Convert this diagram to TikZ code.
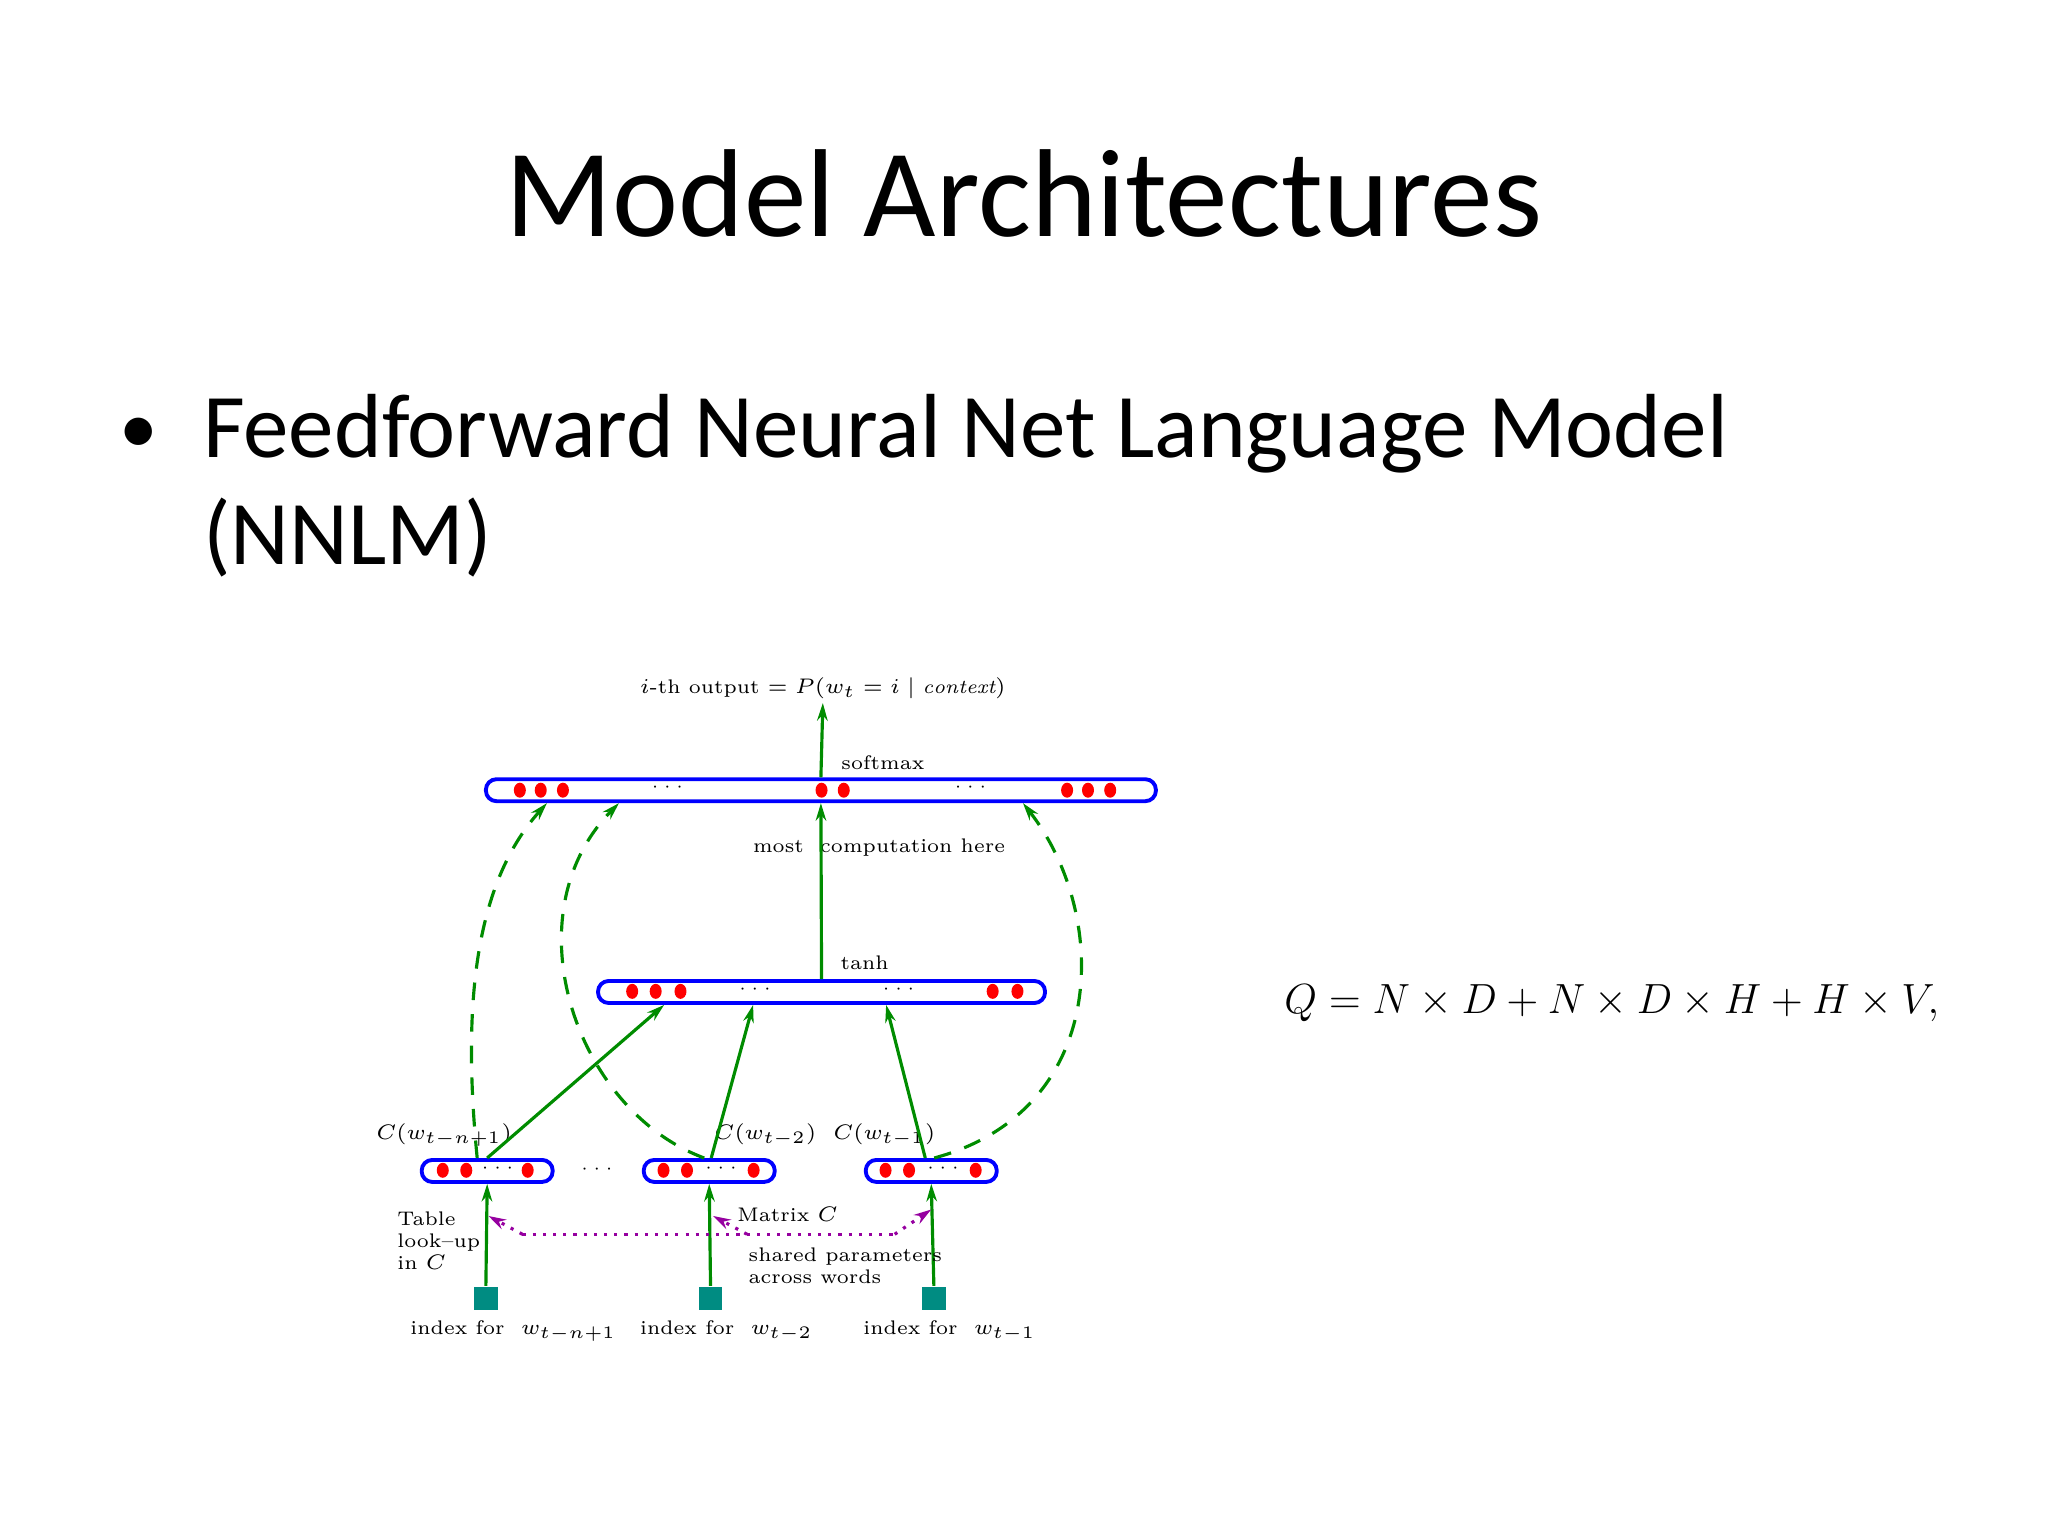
\documentclass[tikz,border=0pt]{standalone}
\usepackage{fontspec}
\newfontfamily\calfont{Carlito}
\usetikzlibrary{arrows.meta,shapes.geometric}
\definecolor{gr}{RGB}{0,140,0}
\definecolor{teal2}{RGB}{0,140,130}
\definecolor{pur}{RGB}{150,0,160}
\begin{document}
\begin{tikzpicture}[x=0.01306cm,y=-0.01306cm,
  bar/.style={draw=blue,line width=1.1pt,rounded corners=3pt,fill=white,inner sep=0pt},
  dot/.style={fill=red,draw=none,ellipse,inner sep=0pt,minimum width=0.12cm,minimum height=0.15cm},
  arr/.style={gr,line width=0.9pt,-{Stealth[length=5pt,width=3pt]}},
  darr/.style={gr,line width=0.9pt,dash pattern=on 5pt off 4pt,-{Stealth[length=5pt,width=3pt]}},
  parr/.style={pur,line width=0.9pt,dotted,-{Stealth[length=5pt,width=3pt]}},
  lab/.style={font=\fontsize{5.6}{6.3}\selectfont,inner sep=1pt},
  sq/.style={fill=teal2,minimum size=0.235cm,inner sep=0pt}]
\useasboundingbox (0,0) rectangle (1568,1176);
\node[font=\calfont\fontsize{35.6}{38}\selectfont] (title) at (784,148) {Model Architectures};
\node[font=\calfont\fontsize{25.9}{28}\selectfont,anchor=base west,inner sep=0pt] (b1) at (155,350) {Feedforward Neural Net Language Model};
\node[font=\calfont\fontsize{25.9}{28}\selectfont,anchor=base west,inner sep=0pt] (b2) at (155,432) {(NNLM)};
\node[font=\calfont\fontsize{22}{28}\selectfont,anchor=base] (bul) at (106,347) {•};
% bars
\node[bar,minimum width=6.70cm,minimum height=0.22cm] (soft) at (628.5,605) {};
\node[bar,minimum width=4.47cm,minimum height=0.22cm] (tanh) at (629,759.5) {};
\node[bar,minimum width=1.31cm,minimum height=0.22cm] (e1) at (373,896.5) {};
\node[bar,minimum width=1.31cm,minimum height=0.22cm] (e2) at (543,896.5) {};
\node[bar,minimum width=1.31cm,minimum height=0.22cm] (e3) at (713,896.5) {};
% dots
\foreach \x in {398,414,431,629,646,817,833,850}{\path (\x,605) node[dot]{};}
\foreach \x in {484,502,521,760,779}{\path (\x,759) node[dot]{};}
\foreach \x in {339,357,404,508,526,577,678,696,747}{\path (\x,896) node[dot]{};}
\foreach \x/\y in {511/605,743/605,578/759,688/759,381/896,552/896,722/896,457/897}{\node[lab,font=\fontsize{5}{5}\selectfont] at (\x,\y-2) {$\cdots$};}
% inputs
\node[sq] (i1) at (372,994) {};
\node[sq] (i2) at (544,994) {};
\node[sq] (i3) at (715,994) {};
\draw[arr] (i1.north) -- (e1.south);
\draw[arr] (i2.north) -- (e2.south);
\draw[arr] (i3.north) -- (e3.south);
% labels
\node[lab] (out) at (630,527) {$i$-th output $= P(w_t = i \mid \mathit{context})$};
\node[lab] (lsoft) at (676,584) {softmax};
\node[lab] (lmost) at (673,649) {most\ \ computation here};
\node[lab] (ltanh) at (662,737) {tanh};
\node[lab] (c1) at (340,869) {$C(w_{t-n+1})$};
\node[lab] (c2) at (586,869) {$C(w_{t-2})$};
\node[lab] (c3) at (677,869) {$C(w_{t-1})$};
\node[lab,align=left,anchor=west] (tab) at (301,950) {Table\\look--up\\in $C$};
\node[lab] (mat) at (603,930) {Matrix $C$};
\node[lab,align=left,anchor=north west] (sh) at (570,952) {shared parameters\\across words};
\node[lab] (x1) at (393,1019) {index for\ \ $w_{t-n+1}$};
\node[lab] (x2) at (556,1019) {index for\ \ $w_{t-2}$};
\node[lab] (x3) at (727,1019) {index for\ \ $w_{t-1}$};
% main arrows
\draw[arr] (soft.north) -- (out.south);
\draw[arr] (tanh.north) -- (soft.south);
\draw[arr] (e1.north) -- ([xshift=0.68cm]tanh.south west);
\draw[arr] ([xshift=0.02cm]e2.north) -- ([xshift=1.57cm]tanh.south west);
\draw[arr] ([xshift=-0.06cm]e3.north) -- ([xshift=2.90cm]tanh.south west);
% dashed
\draw[darr] ([xshift=-0.1cm]e1.north) .. controls (355,780) and (360,680) .. ([xshift=0.63cm]soft.south west);
\draw[darr] ([xshift=-0.05cm]e2.north) .. controls (440,850) and (390,700) .. ([xshift=1.35cm]soft.south west);
\draw[darr] ([xshift=0.03cm]e3.north) .. controls (850,850) and (850,700) .. ([xshift=5.39cm]soft.south west);
% purple dotted
\coordinate (pl) at (400,945);
\coordinate (pr) at (685,945);
\coordinate (pm) at (572,945);
\draw[pur,line width=0.9pt,dotted] (pl) -- (pr);
\draw[parr] (pl) -- (374,931);
\draw[parr] (pm) -- (546,931);
\draw[parr] (pr) -- (713,926);
% equation
\node[font=\fontsize{12}{14}\selectfont] (eq) at (1234,768) {$Q = N\times D + N\times D\times H + H\times V,$};
\end{tikzpicture}
\end{document}
